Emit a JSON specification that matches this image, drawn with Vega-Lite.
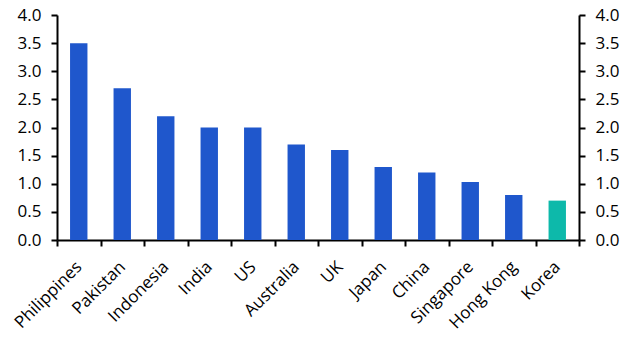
{
  "$schema": "https://vega.github.io/schema/vega-lite/v6.json",
  "autosize": {"type": "none"},
  "width": 522,
  "height": 225,
  "padding": {"left": 57, "top": 15, "right": 54, "bottom": 109},
  "background": "white",
  "config": {
    "view": {"stroke": null},
    "font": "Open Sans",
    "axis": {
      "grid": false,
      "domainColor": "black",
      "domainWidth": 2,
      "tickColor": "black",
      "tickWidth": 2,
      "tickSize": 6,
      "labelFont": "Open Sans",
      "labelFontSize": 17,
      "labelColor": "black",
      "title": null
    }
  },
  "data": {
    "values": [
      {"country": "Philippines", "value": 3.5, "group": "other"},
      {"country": "Pakistan", "value": 2.7, "group": "other"},
      {"country": "Indonesia", "value": 2.2, "group": "other"},
      {"country": "India", "value": 2.0, "group": "other"},
      {"country": "US", "value": 2.0, "group": "other"},
      {"country": "Australia", "value": 1.7, "group": "other"},
      {"country": "UK", "value": 1.6, "group": "other"},
      {"country": "Japan", "value": 1.3, "group": "other"},
      {"country": "China", "value": 1.2, "group": "other"},
      {"country": "Singapore", "value": 1.03, "group": "other"},
      {"country": "Hong Kong", "value": 0.8, "group": "other"},
      {"country": "Korea", "value": 0.7, "group": "Korea"}
    ]
  },
  "layer": [
    {
      "mark": {"type": "bar", "width": {"band": 0.4}},
      "encoding": {
        "x": {
          "field": "country",
          "type": "nominal",
          "sort": null,
          "scale": {"paddingInner": 0, "paddingOuter": 0},
          "axis": {
            "labelAngle": -45,
            "labelAlign": "right",
            "labelBaseline": "middle",
            "tickBand": "extent",
            "labelPadding": 18,
            "title": null
          }
        },
        "y": {
          "field": "value",
          "type": "quantitative",
          "scale": {"domain": [0, 4]},
          "axis": {"orient": "left", "values": [0, 0.5, 1, 1.5, 2, 2.5, 3, 3.5, 4], "format": ".1f", "labelPadding": 10, "title": null}
        },
        "color": {
          "field": "group",
          "type": "nominal",
          "scale": {"domain": ["other", "Korea"], "range": ["#1F57CC", "#0DB9AA"]},
          "legend": null
        }
      }
    },
    {
      "mark": {"type": "rule", "opacity": 0},
      "encoding": {
        "y": {
          "datum": 0,
          "type": "quantitative",
          "scale": {"domain": [0, 4]},
          "axis": {"orient": "right", "values": [0, 0.5, 1, 1.5, 2, 2.5, 3, 3.5, 4], "format": ".1f", "labelPadding": 10, "title": null}
        }
      }
    }
  ],
  "resolve": {"scale": {"y": "independent"}}
}
